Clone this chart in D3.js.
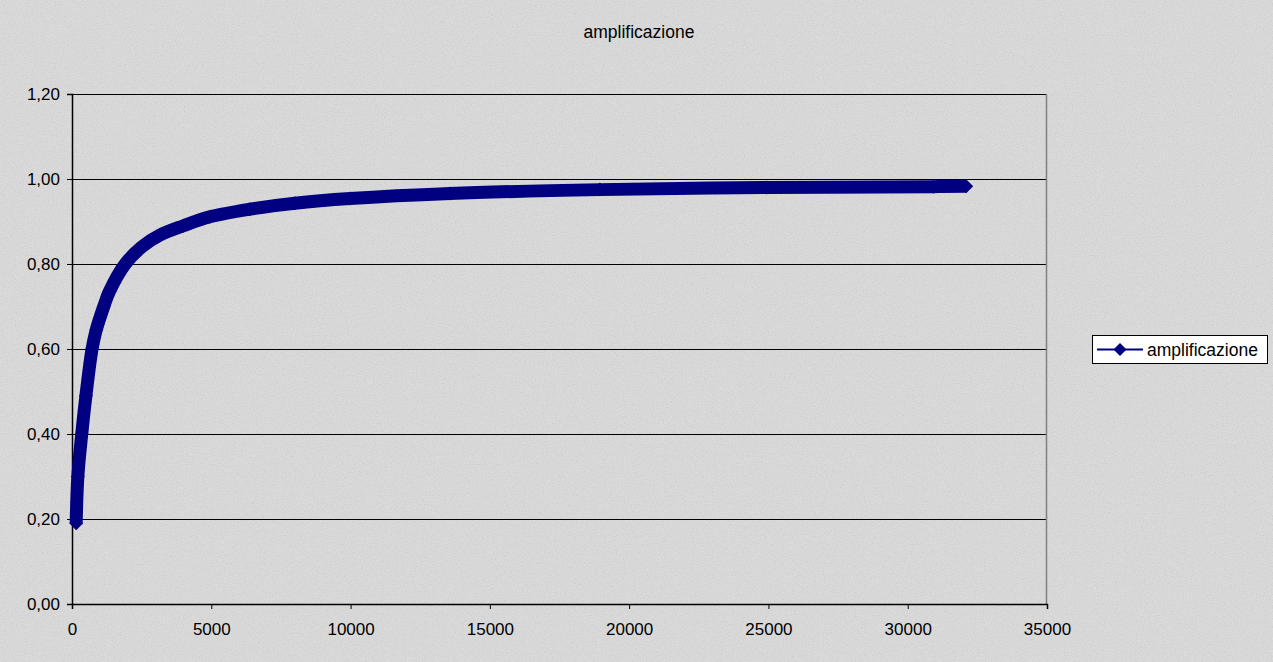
<!DOCTYPE html>
<html>
<head>
<meta charset="utf-8">
<script src="https://cdn.jsdelivr.net/npm/d3@7"></script>
<style>
  body { margin: 0; background: #d9d9d9; }
  text { font-family: "Liberation Sans", Arial, sans-serif; }
</style>
</head>
<body>
<div id="chart"></div>
<script>
// values
var xValues = [150, 210, 350, 500, 720, 870, 1140, 1340, 1910, 2500, 3160, 4000, 4950, 6390, 8000, 9980, 13570, 18950, 24930, 30920, 32100]
var yValues = [0.19, 0.30, 0.40, 0.49, 0.60, 0.645, 0.70, 0.735, 0.80, 0.84, 0.868, 0.89, 0.911, 0.929, 0.943, 0.954, 0.966, 0.975, 0.980, 0.982, 0.983]
var xTicks = [0, 5000, 10000, 15000, 20000, 25000, 30000, 35000]
var yTicks = [0, 0.2, 0.4, 0.6, 0.8, 1.0, 1.2]
var seriesName = "amplificazione"
var chartTitle = "amplificazione"

var data = xValues.map(function(d, i) { return {x: d, y: yValues[i]} })

var W = 1273, H = 662
var margin = {top: 94, right: 226, bottom: 58, left: 72},
    width = W - margin.left - margin.right,
    height = H - margin.top - margin.bottom

var svg = d3.select("#chart")
  .append("svg")
    .attr("width", W)
    .attr("height", H)

// textured gray background
var defs = svg.append("defs")
var filt = defs.append("filter").attr("id", "noise").attr("x", 0).attr("y", 0).attr("width", "100%").attr("height", "100%")
filt.append("feTurbulence").attr("type", "fractalNoise").attr("baseFrequency", 0.9).attr("numOctaves", 2).attr("seed", 3)
filt.append("feColorMatrix").attr("type", "matrix")
  .attr("values", "0 0 0 0 0.45  0 0 0 0 0.45  0 0 0 0 0.45  0 0 0 -2.2 1.25")
svg.append("rect").attr("width", W).attr("height", H).attr("fill", "#dadada")
svg.append("rect").attr("width", W).attr("height", H).attr("filter", "url(#noise)").attr("opacity", 0.35)

svg.append("text")
  .attr("x", 639)
  .attr("y", 38)
  .attr("text-anchor", "middle")
  .style("font-size", "17.5px")
  .attr("fill", "#000")
  .text(chartTitle)

var g = svg.append("g")
  .attr("transform", "translate(" + margin.left + "," + margin.top + ")")

var x = d3.scaleLinear().domain([0, 35000]).range([0, width])
var y = d3.scaleLinear().domain([0, 1.2]).range([height, 0])

// gridlines
g.selectAll(".grid")
  .data(yTicks.filter(function(d) { return d > 0 }))
  .enter()
  .append("line")
    .attr("x1", 0)
    .attr("x2", width)
    .attr("y1", function(d) { return Math.round(y(d)) + 0.5 })
    .attr("y2", function(d) { return Math.round(y(d)) + 0.5 })
    .attr("stroke", "#000")
    .attr("stroke-width", 1)

// right border of plot area
g.append("line")
  .attr("x1", width - 0.5).attr("x2", width - 0.5)
  .attr("y1", 0).attr("y2", height)
  .attr("stroke", "#808080")
  .attr("stroke-width", 1.5)

var fmtY = function(d) { return d3.format(".2f")(d).replace(".", ",") }

var yAxis = g.append("g")
  .call(d3.axisLeft(y).tickValues(yTicks).tickFormat(fmtY).tickSize(5).tickPadding(7))
yAxis.select(".domain").attr("stroke", "#000").attr("stroke-width", 1.5)
yAxis.selectAll("text").style("font-size", "17px").attr("fill", "#000")

var xAxis = g.append("g")
  .attr("transform", "translate(0," + height + ")")
  .call(d3.axisBottom(x).tickValues(xTicks).tickFormat(d3.format("d")).tickSize(5).tickPadding(14))
xAxis.select(".domain").attr("stroke", "#000").attr("stroke-width", 1.5)
xAxis.selectAll("text").style("font-size", "17px").attr("fill", "#000")

// series: thick band of dense diamond markers
var navy = "#000080"
var line = d3.line()
  .x(function(d) { return x(d.x) })
  .y(function(d) { return y(d.y) })
  .curve(d3.curveCatmullRom.alpha(0.5))

g.append("path")
  .datum(data)
  .attr("d", line)
  .attr("fill", "none")
  .attr("stroke", navy)
  .attr("stroke-width", 13)
  .attr("stroke-linejoin", "round")

var diamond = d3.symbol().type(d3.symbolSquare).size(98)
g.selectAll(".pt")
  .data(data)
  .enter()
  .append("path")
    .attr("d", diamond)
    .attr("transform", function(d) { return "translate(" + x(d.x) + "," + y(d.y) + ") rotate(45)" })
    .attr("fill", navy)

// legend
var lg = svg.append("g").attr("transform", "translate(1092,335)")
lg.append("rect")
  .attr("x", 0.5).attr("y", 0.5)
  .attr("width", 175).attr("height", 28)
  .attr("fill", "#fff")
  .attr("stroke", "#000")
lg.append("line")
  .attr("x1", 5).attr("x2", 51)
  .attr("y1", 14.5).attr("y2", 14.5)
  .attr("stroke", navy).attr("stroke-width", 2)
lg.append("path")
  .attr("d", d3.symbol().type(d3.symbolSquare).size(85))
  .attr("transform", "translate(28,14.5) rotate(45)")
  .attr("fill", navy)
lg.append("text")
  .attr("x", 55)
  .attr("y", 21)
  .style("font-size", "17.5px")
  .attr("fill", "#000")
  .text(seriesName)
</script>
</body>
</html>
